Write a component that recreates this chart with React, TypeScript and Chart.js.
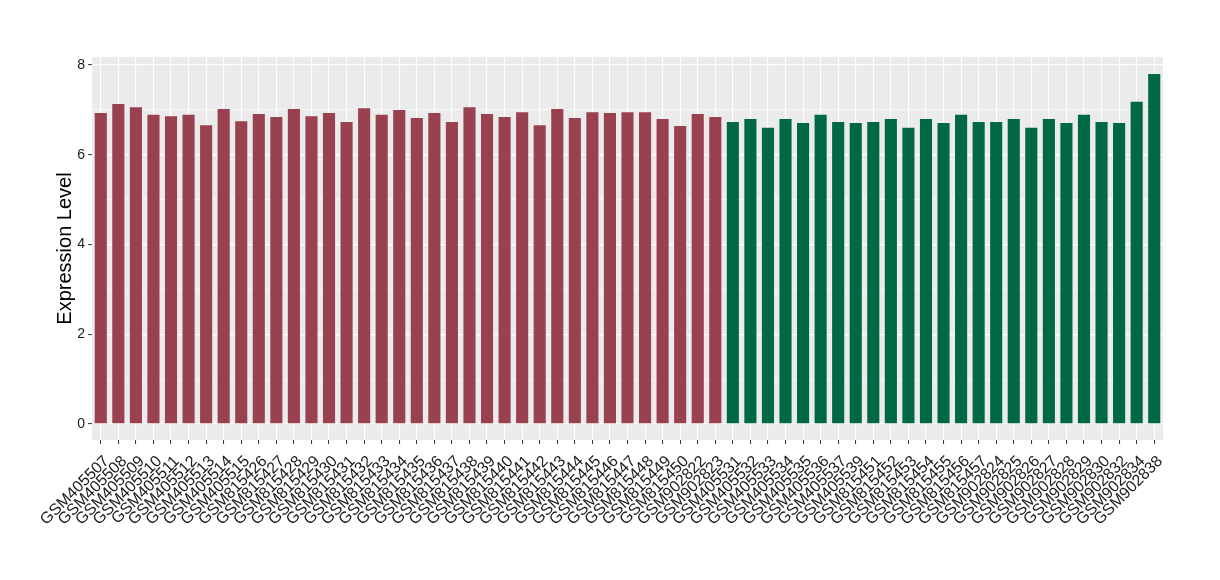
import React, { useEffect, useRef } from "react";
import { Chart, registerables } from "chart.js";

Chart.register(...registerables);

const redSamples = [
  "GSM405507", "GSM405508", "GSM405509", "GSM405510", "GSM405511", "GSM405512",
  "GSM405513", "GSM405514", "GSM405515", "GSM815426", "GSM815427", "GSM815428",
  "GSM815429", "GSM815430", "GSM815431", "GSM815432", "GSM815433", "GSM815434",
  "GSM815435", "GSM815436", "GSM815437", "GSM815438", "GSM815439", "GSM815440",
  "GSM815441", "GSM815442", "GSM815443", "GSM815444", "GSM815445", "GSM815446",
  "GSM815447", "GSM815448", "GSM815449", "GSM815450", "GSM902822", "GSM902823",
];
const redValues = [
  6.93, 7.13, 7.06, 6.89, 6.86, 6.89, 6.66, 7.02, 6.75, 6.91, 6.84, 7.02,
  6.86, 6.93, 6.73, 7.04, 6.89, 7.0, 6.82, 6.93, 6.73, 7.06, 6.91, 6.84,
  6.95, 6.66, 7.02, 6.82, 6.95, 6.93, 6.95, 6.95, 6.8, 6.64, 6.91, 6.84,
];
const greenSamples = [
  "GSM405531", "GSM405532", "GSM405533", "GSM405534", "GSM405535", "GSM405536",
  "GSM405537", "GSM405539", "GSM815451", "GSM815452", "GSM815453", "GSM815454",
  "GSM815455", "GSM815456", "GSM815457", "GSM902824", "GSM902825", "GSM902826",
  "GSM902827", "GSM902828", "GSM902829", "GSM902830", "GSM902832", "GSM902834",
  "GSM902838",
];
const greenValues = [
  6.73, 6.8, 6.6, 6.8, 6.71, 6.89, 6.73, 6.71, 6.73, 6.8, 6.6, 6.8,
  6.71, 6.89, 6.73, 6.73, 6.8, 6.6, 6.8, 6.71, 6.89, 6.73, 6.71, 7.18,
  7.8,
];
const yTicks = [0, 1, 2, 3, 4, 5, 6, 7, 8];

const RED = "#9A4150";
const GREEN = "#006845";

export default function App() {
  const ref = useRef<HTMLCanvasElement | null>(null);
  useEffect(() => {
    if (!ref.current) return;
    const labels = [...redSamples, ...greenSamples];
    const values = [...redValues, ...greenValues];
    const colors = [
      ...redSamples.map(() => RED),
      ...greenSamples.map(() => GREEN),
    ];
    const bgPlugin = {
      id: "panelBg",
      beforeDraw(chart: any) {
        const { ctx, chartArea } = chart;
        ctx.save();
        ctx.fillStyle = "#EBEBEB";
        ctx.fillRect(chartArea.left, chartArea.top, chartArea.right - chartArea.left, chartArea.bottom - chartArea.top);
        ctx.restore();
      },
    };
    const font = "'Liberation Sans', Arial, Helvetica, sans-serif";
    const chart = new Chart(ref.current, {
      type: "bar",
      data: {
        labels,
        datasets: [
          {
            data: values,
            backgroundColor: colors,
            barPercentage: 0.69,
            categoryPercentage: 1,
          },
        ],
      },
      plugins: [bgPlugin],
      options: {
        animation: false,
        responsive: false,
        maintainAspectRatio: false,
        layout: { padding: { top: 57, right: 57, left: 0, bottom: 0 } },
        plugins: { legend: { display: false }, tooltip: { enabled: false } },
        scales: {
          x: {
            type: "category",
            offset: true,
            grid: {
              offset: false,
              color: "#FFFFFF",
              lineWidth: 1.1,
              drawTicks: true,
              tickLength: 4,
              tickColor: "#333333",
              tickWidth: 1,
            },
            border: { display: false },
            ticks: {
              autoSkip: false,
              maxRotation: 45,
              minRotation: 45,
              color: "#1a1a1a",
              padding: 8,
              labelOffset: 6,
              font: { family: font, size: 16 },
            },
            afterFit(scale: any) {
              scale.height = 140;
            },
          },
          y: {
            type: "linear",
            min: -0.36,
            max: 8.18,
            afterBuildTicks(scale: any) {
              scale.ticks = yTicks.map((v) => ({ value: v }));
            },
            grid: {
              color: "#FFFFFF",
              lineWidth: (c: any) => (c.tick && c.tick.value % 2 === 0 ? 1.2 : 0.6),
              drawTicks: true,
              tickLength: 4,
              tickColor: (c: any) => (c.tick && c.tick.value % 2 === 0 ? "#333333" : "rgba(0,0,0,0)"),
              tickWidth: 1,
            },
            border: { display: false },
            ticks: {
              color: "#1a1a1a",
              padding: 3,
              font: { family: font, size: 14 },
              callback: (v: any) => (Number(v) % 2 === 0 ? String(v) : ""),
            },
            title: {
              display: true,
              text: "Expression Level",
              color: "#000000",
              font: { family: font, size: 20, lineHeight: 1.2 },
              padding: { top: 53, bottom: 0 },
            },
            afterFit(scale: any) {
              scale.width = 92;
            },
          },
        },
      },
    });
    return () => chart.destroy();
  }, []);
  return (
    <div style={{ position: "fixed", left: 0, top: 0, width: 1220, height: 580, background: "#fff" }}>
      <canvas ref={ref} width={1220} height={580} style={{ width: 1220, height: 580 }} />
    </div>
  );
}
